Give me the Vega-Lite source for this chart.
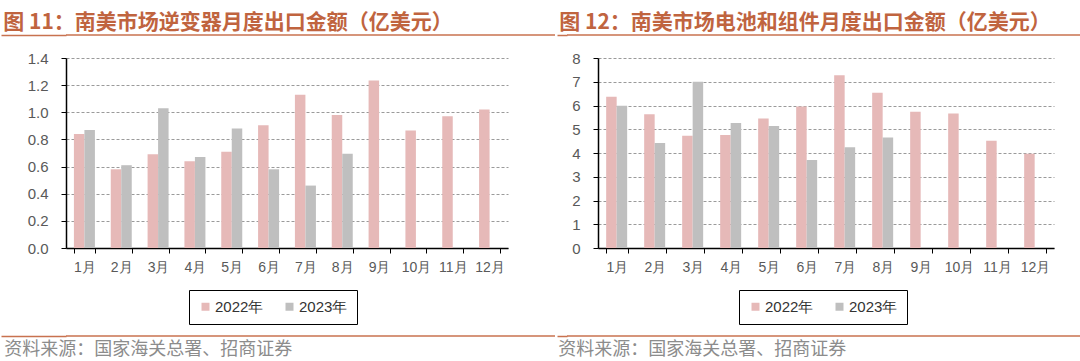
{
  "$schema": "https://vega.github.io/schema/vega-lite/v6.json",
  "padding": {"top": 12, "left": 0, "right": 0, "bottom": 0},
  "background": "white",
  "spacing": 10,
  "config": {
    "view": {"stroke": null},
    "font": "Liberation Sans",
    "axis": {"labelFont": "Liberation Sans", "labelColor": "#595959", "domainColor": "#000000", "tickColor": "#000000", "tickSize": 5, "title": null},
    "legend": {"title": null, "orient": "none", "direction": "horizontal", "symbolType": "square", "symbolSize": 64, "symbolStrokeWidth": 0, "labelFontSize": 15, "labelColor": "#333333", "labelFont": "Liberation Sans", "labelOffset": 2, "strokeColor": "#000000", "padding": 9, "columnPadding": 18}
  },
  "datasets": {
    "inv": [
      {"month": "1月", "year": "2022年", "value": 0.84}, {"month": "1月", "year": "2023年", "value": 0.87},
      {"month": "2月", "year": "2022年", "value": 0.58}, {"month": "2月", "year": "2023年", "value": 0.61},
      {"month": "3月", "year": "2022年", "value": 0.69}, {"month": "3月", "year": "2023年", "value": 1.03},
      {"month": "4月", "year": "2022年", "value": 0.64}, {"month": "4月", "year": "2023年", "value": 0.67},
      {"month": "5月", "year": "2022年", "value": 0.71}, {"month": "5月", "year": "2023年", "value": 0.88},
      {"month": "6月", "year": "2022年", "value": 0.905}, {"month": "6月", "year": "2023年", "value": 0.58},
      {"month": "7月", "year": "2022年", "value": 1.13}, {"month": "7月", "year": "2023年", "value": 0.46},
      {"month": "8月", "year": "2022年", "value": 0.98}, {"month": "8月", "year": "2023年", "value": 0.695},
      {"month": "9月", "year": "2022年", "value": 1.235},
      {"month": "10月", "year": "2022年", "value": 0.865},
      {"month": "11月", "year": "2022年", "value": 0.97},
      {"month": "12月", "year": "2022年", "value": 1.02}
    ],
    "bat": [
      {"month": "1月", "year": "2022年", "value": 6.37}, {"month": "1月", "year": "2023年", "value": 5.99},
      {"month": "2月", "year": "2022年", "value": 5.63}, {"month": "2月", "year": "2023年", "value": 4.42},
      {"month": "3月", "year": "2022年", "value": 4.73}, {"month": "3月", "year": "2023年", "value": 7.0},
      {"month": "4月", "year": "2022年", "value": 4.76}, {"month": "4月", "year": "2023年", "value": 5.26},
      {"month": "5月", "year": "2022年", "value": 5.45}, {"month": "5月", "year": "2023年", "value": 5.14},
      {"month": "6月", "year": "2022年", "value": 5.96}, {"month": "6月", "year": "2023年", "value": 3.71},
      {"month": "7月", "year": "2022年", "value": 7.27}, {"month": "7月", "year": "2023年", "value": 4.24},
      {"month": "8月", "year": "2022年", "value": 6.54}, {"month": "8月", "year": "2023年", "value": 4.65},
      {"month": "9月", "year": "2022年", "value": 5.74},
      {"month": "10月", "year": "2022年", "value": 5.66},
      {"month": "11月", "year": "2022年", "value": 4.52},
      {"month": "12月", "year": "2022年", "value": 3.97}
    ]
  },
  "vconcat": [
    {
      "spacing": 0,
      "hconcat": [
        {
          "width": 489, "height": 6,
          "data": {"values": [{}]},
          "title": {"text": "图 11：南美市场逆变器月度出口金额（亿美元）", "anchor": "start", "frame": "bounds", "fontSize": 21, "fontWeight": "bold", "color": "#C0643F", "font": "Noto Sans CJK SC", "offset": 1, "dx": 3},
          "mark": {"type": "rule", "color": "#C8724F", "strokeWidth": 1.5},
          "encoding": {"y": {"datum": 1, "type": "quantitative", "scale": {"domain": [0, 1]},
            "axis": {"values": [1], "labels": false, "domain": false, "grid": false, "ticks": true, "tickSize": 65, "tickColor": "#C8724F", "tickWidth": 1.5, "minExtent": 65, "maxExtent": 65}}}
        },
        {
          "width": 516, "height": 6,
          "data": {"values": [{}]},
          "title": {"text": "图 12：南美市场电池和组件月度出口金额（亿美元）", "anchor": "start", "frame": "bounds", "fontSize": 21, "fontWeight": "bold", "color": "#C0643F", "font": "Noto Sans CJK SC", "offset": 1, "dx": 3},
          "mark": {"type": "rule", "color": "#C8724F", "strokeWidth": 1.5},
          "encoding": {"y": {"datum": 1, "type": "quantitative", "scale": {"domain": [0, 1]},
            "axis": {"values": [1], "labels": false, "domain": false, "grid": false, "ticks": true, "tickSize": 10, "tickColor": "#C8724F", "tickWidth": 1.5, "minExtent": 10, "maxExtent": 10}}}
        }
      ]
    },
    {
      "spacing": 41,
      "resolve": {"scale": {"color": "independent"}, "legend": {"color": "independent"}},
      "hconcat": [
        {
          "width": 442, "height": 190,
          "data": {"name": "inv"},
          "mark": {"type": "bar"},
          "encoding": {
            "x": {"field": "month", "type": "nominal", "sort": null, "scale": {"paddingInner": 0.43, "paddingOuter": 0.215},
                  "axis": {"labelAngle": 0, "labelFontSize": 14, "labelPadding": 7, "tickBand": "extent", "grid": false, "domainWidth": 1.5}},
            "xOffset": {"field": "year", "type": "nominal", "scale": {"padding": 0}},
            "y": {"field": "value", "type": "quantitative", "scale": {"domain": [0, 1.4], "nice": false},
                  "axis": {"values": [0, 0.2, 0.4, 0.6, 0.8, 1.0, 1.2, 1.4], "format": ".1f", "labelFontSize": 15, "labelPadding": 13, "minExtent": 65, "grid": true, "gridDash": [3, 2], "gridColor": "#9A9A9A", "domainWidth": 1.5}},
            "color": {"field": "year", "type": "nominal", "scale": {"range": ["#E6B9B8", "#BFBFBF"]},
                      "legend": {"legendX": 123, "legendY": 232}}
          }
        },
        {
          "width": 456, "height": 190,
          "data": {"name": "bat"},
          "mark": {"type": "bar"},
          "encoding": {
            "x": {"field": "month", "type": "nominal", "sort": null, "scale": {"paddingInner": 0.43, "paddingOuter": 0.215},
                  "axis": {"labelAngle": 0, "labelFontSize": 14, "labelPadding": 7, "tickBand": "extent", "grid": false, "domainWidth": 1.5}},
            "xOffset": {"field": "year", "type": "nominal", "scale": {"padding": 0}},
            "y": {"field": "value", "type": "quantitative", "scale": {"domain": [0, 8], "nice": false},
                  "axis": {"values": [0, 1, 2, 3, 4, 5, 6, 7, 8], "format": "d", "labelFontSize": 15, "labelPadding": 13, "minExtent": 49, "grid": true, "gridDash": [3, 2], "gridColor": "#9A9A9A", "domainWidth": 1.5}},
            "color": {"field": "year", "type": "nominal", "scale": {"range": ["#E6B9B8", "#BFBFBF"]},
                      "legend": {"legendX": 141, "legendY": 232}}
          }
        }
      ]
    },
    {
      "spacing": 0,
      "hconcat": [
        {
          "width": 489, "height": 1,
          "data": {"values": [{}]},
          "title": {"text": "资料来源：国家海关总署、招商证券", "orient": "bottom", "anchor": "start", "frame": "bounds", "fontSize": 18, "fontWeight": "normal", "color": "#8C8C8C", "font": "Noto Sans CJK SC", "offset": 4, "dx": 4},
          "mark": {"type": "rule", "color": "#C8724F", "strokeWidth": 1.5},
          "encoding": {"y": {"datum": 1, "type": "quantitative", "scale": {"domain": [0, 1]},
            "axis": {"values": [1], "labels": false, "domain": false, "grid": false, "ticks": true, "tickSize": 65, "tickColor": "#C8724F", "tickWidth": 1.5, "minExtent": 65, "maxExtent": 65}}}
        },
        {
          "width": 516, "height": 1,
          "data": {"values": [{}]},
          "title": {"text": "资料来源：国家海关总署、招商证券", "orient": "bottom", "anchor": "start", "frame": "bounds", "fontSize": 18, "fontWeight": "normal", "color": "#8C8C8C", "font": "Noto Sans CJK SC", "offset": 4, "dx": 2},
          "mark": {"type": "rule", "color": "#C8724F", "strokeWidth": 1.5},
          "encoding": {"y": {"datum": 1, "type": "quantitative", "scale": {"domain": [0, 1]},
            "axis": {"values": [1], "labels": false, "domain": false, "grid": false, "ticks": true, "tickSize": 10, "tickColor": "#C8724F", "tickWidth": 1.5, "minExtent": 10, "maxExtent": 10}}}
        }
      ]
    }
  ]
}
